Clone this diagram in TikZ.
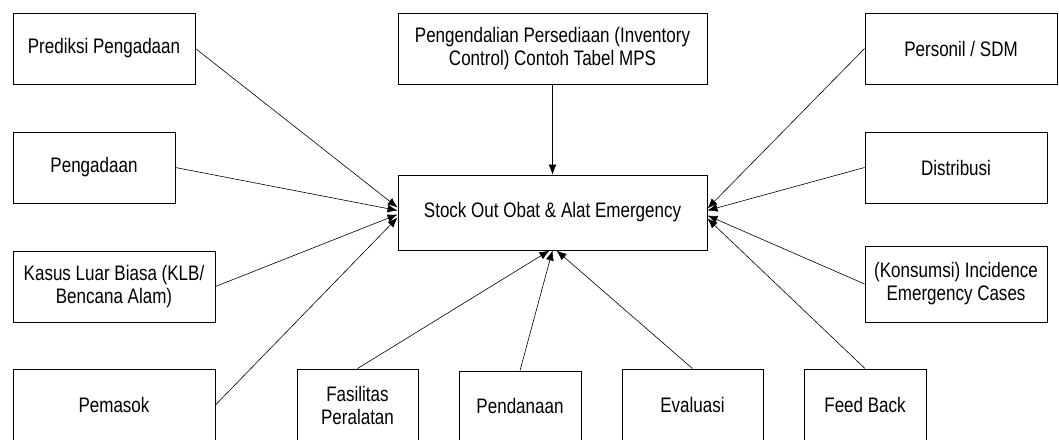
\documentclass[tikz,border=0pt]{standalone}
\usepackage{fontspec}
\setmainfont{Liberation Sans}[FakeStretch=0.81]
\usepackage{tikz}
\usetikzlibrary{positioning, arrows.meta}
\tikzstyle{fk}=[%
      rectangle, draw=black, line width=0.9pt, fill=white,
      align=center, inner sep=2pt, minimum height=71pt,
      font=\fontsize{21}{23}\selectfont
]
\tikzstyle{hub}=[%
      rectangle, draw=black, line width=0.9pt, fill=white,
      align=center, inner sep=2pt, minimum width=309pt, minimum height=75pt,
      font=\fontsize{21}{23}\selectfont
]
\begin{document}
\begin{tikzpicture}[x=1pt, y=-1pt,
    -{Latex[length=10pt,width=8pt]}, line width=0.6pt
  ]
    \useasboundingbox (0,0) rectangle (1059,439);

    \node[hub]                     (obat)       at (552.5,212.5) {Stock Out Obat \& Alat Emergency};
    \node[fk, minimum width=309pt] (inventori)  at (552.5,48.5)  {Pengendalian Persediaan (Inventory\\Control) Contoh Tabel MPS};

    % kiri
    \node[fk, minimum width=182pt] (prediksi)   at (104,48.5)    {Prediksi Pengadaan};
    \node[fk, minimum width=162pt] (pengadaan)  at (94,167.5)    {Pengadaan};
    \node[fk, minimum width=202pt] (klb)        at (114,286.5)   {Kasus Luar Biasa (KLB/\\Bencana Alam)};
    \node[fk, minimum width=202pt, minimum height=72pt] (pemasok) at (114,405) {Pemasok};

    % kanan
    \node[fk, minimum width=192pt] (sdm)        at (961,48.5)    {Personil / SDM};
    \node[fk, minimum width=182pt] (distribusi) at (956,167.5)   {Distribusi};
    \node[fk, minimum width=182pt, minimum height=76pt] (konsumsi) at (956,284) {(Konsumsi) Incidence\\Emergency Cases};

    % bawah
    \node[fk, minimum width=121pt, minimum height=72pt] (fasilitas) at (357.5,405) {Fasilitas\\Peralatan};
    \node[fk, minimum width=122pt, minimum height=70pt] (dana)      at (520,406)   {Pendanaan};
    \node[fk, minimum width=141pt, minimum height=72pt] (evaluasi)  at (692.5,405) {Evaluasi};
    \node[fk, minimum width=122pt, minimum height=72pt] (feedback)  at (865,405)   {Feed Back};

    \path (inventori.south) edge (obat.north)
          (prediksi.east)   edge ([yshift=5pt]obat.west)
          (pengadaan.east)  edge ([yshift=2pt]obat.west)
          (klb.east)        edge ([yshift=-2pt]obat.west)
          (pemasok.east)    edge ([yshift=-5pt]obat.west)
          (sdm.west)        edge ([yshift=4pt]obat.east)
          (distribusi.west) edge ([yshift=2pt]obat.east)
          (konsumsi.west)   edge ([yshift=-3pt]obat.east)
          (feedback.north)  edge ([yshift=-6pt]obat.east)
          (fasilitas.north) edge ([xshift=-3pt]obat.south)
          (dana.north)      edge (obat.south)
          (evaluasi.north)  edge ([xshift=4pt]obat.south)
    ;

  \end{tikzpicture}
\end{document}
